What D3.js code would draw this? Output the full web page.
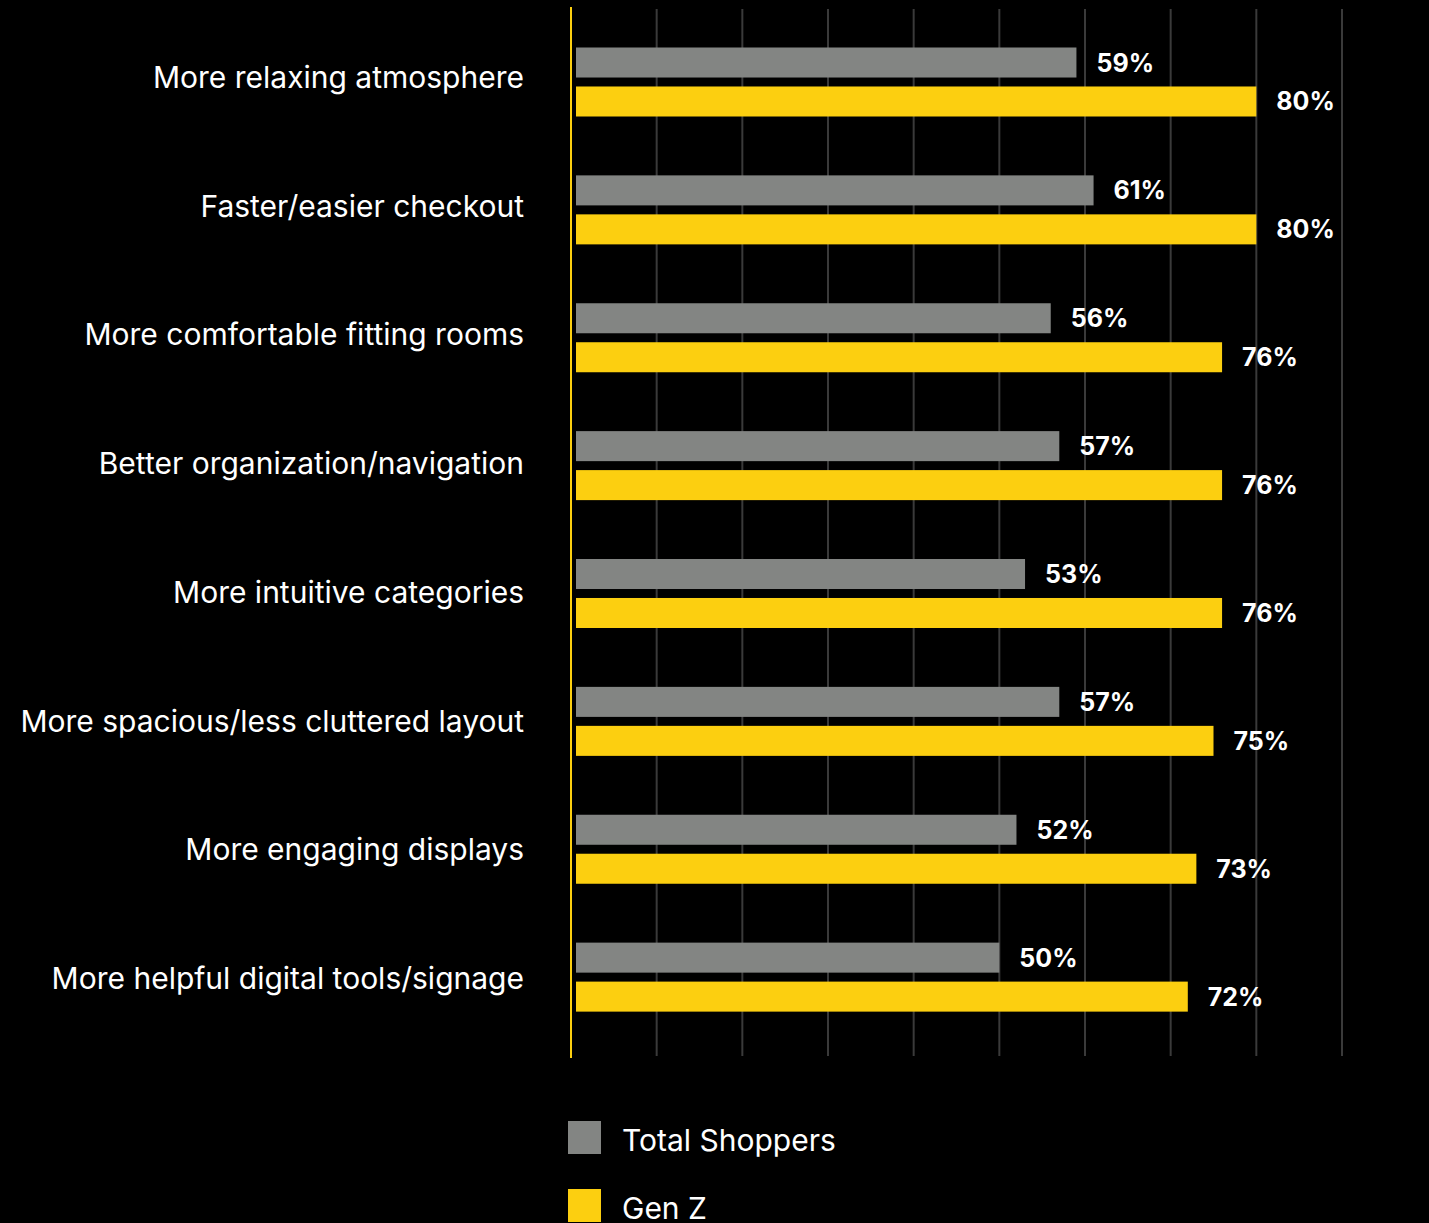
<!DOCTYPE html>
<html>
<head>
<meta charset="utf-8">
<script src="https://cdn.jsdelivr.net/npm/d3@7"></script>
<style>
  html, body { margin: 0; padding: 0; background: #000; }
  svg { display: block; }
</style>
</head>
<body>
<svg id="chart" width="1429" height="1223"></svg>
<script>
// Store improvements and share of shoppers who want them
const categories = [
  "More relaxing atmosphere",
  "Faster/easier checkout",
  "More comfortable fitting rooms",
  "Better organization/navigation",
  "More intuitive categories",
  "More spacious/less cluttered layout",
  "More engaging displays",
  "More helpful digital tools/signage"
];
const seriesNames = ["Total Shoppers", "Gen Z"];
const totalShoppers = [59, 61, 56, 57, 53, 57, 52, 50];
const genZ = [80, 80, 76, 76, 76, 75, 73, 72];
const gridTicks = [10, 20, 30, 40, 50, 60, 70, 80, 90];

const colors = { "Total Shoppers": "#838583", "Gen Z": "#FCCF10" };
const FONT = "Inter, 'Liberation Sans', Arial, sans-serif";

const rows = categories.map((c, i) => ({
  category: c,
  values: [
    { series: seriesNames[0], value: totalShoppers[i] },
    { series: seriesNames[1], value: genZ[i] }
  ]
}));

const svg = d3.select("#chart");

const x = d3.scaleLinear().domain([0, 90]).range([571, 1342]);
const y0 = d3.scaleBand().domain(categories).range([18, 1041]).padding(0);
const y1 = d3.scaleBand().domain(seriesNames).range([29.5, 98.5]).paddingInner(0.23).paddingOuter(0);
// Category labels sit on a slightly wider pitch than the bar groups
const yLabel = d3.scaleBand().domain(categories).range([12.5, 1042.5]).padding(0);

// Vertical gridlines
svg.append("g")
  .selectAll("line")
  .data(gridTicks)
  .join("line")
  .attr("x1", d => x(d)).attr("x2", d => x(d))
  .attr("y1", 9).attr("y2", 1056)
  .attr("stroke", "#3a3a3a")
  .attr("stroke-width", 2);

// Baseline axis
svg.append("line")
  .attr("x1", x(0)).attr("x2", x(0))
  .attr("y1", 7).attr("y2", 1058)
  .attr("stroke", "#FCCF10")
  .attr("stroke-width", 2);

const barGap = 5;

const groups = svg.append("g")
  .selectAll("g")
  .data(rows)
  .join("g")
  .attr("transform", d => `translate(0,${y0(d.category)})`);

groups.selectAll("rect")
  .data(d => d.values)
  .join("rect")
  .attr("x", x(0) + barGap)
  .attr("y", d => y1(d.series))
  .attr("width", d => x(d.value) - x(0) - barGap)
  .attr("height", y1.bandwidth())
  .attr("fill", d => colors[d.series]);

groups.selectAll("text.value")
  .data(d => d.values)
  .join("text")
  .attr("class", "value")
  .attr("x", d => x(d.value) + 20)
  .attr("y", d => y1(d.series) + y1.bandwidth() / 2)
  .attr("dominant-baseline", "central")
  .attr("fill", "#fff")
  .attr("font-family", FONT)
  .attr("font-weight", "bold")
  .attr("font-size", 25)
  .text(d => d.value + "%");

// Category labels
svg.append("g")
  .selectAll("text")
  .data(categories)
  .join("text")
  .attr("x", 524)
  .attr("y", d => yLabel(d) + yLabel.bandwidth() / 2)
  .attr("text-anchor", "end")
  .attr("dominant-baseline", "central")
  .attr("fill", "#fff")
  .attr("font-family", FONT)
  .attr("font-size", 30)
  .text(d => d);

// Legend
const legend = svg.append("g")
  .selectAll("g")
  .data(seriesNames)
  .join("g")
  .attr("transform", (d, i) => `translate(568,${1121 + i * 68})`);

legend.append("rect")
  .attr("width", 33).attr("height", 33)
  .attr("fill", d => colors[d]);

legend.append("text")
  .attr("x", 54)
  .attr("y", 19)
  .attr("dominant-baseline", "central")
  .attr("fill", "#fff")
  .attr("font-family", FONT)
  .attr("font-size", 30)
  .text(d => d);
</script>
</body>
</html>
